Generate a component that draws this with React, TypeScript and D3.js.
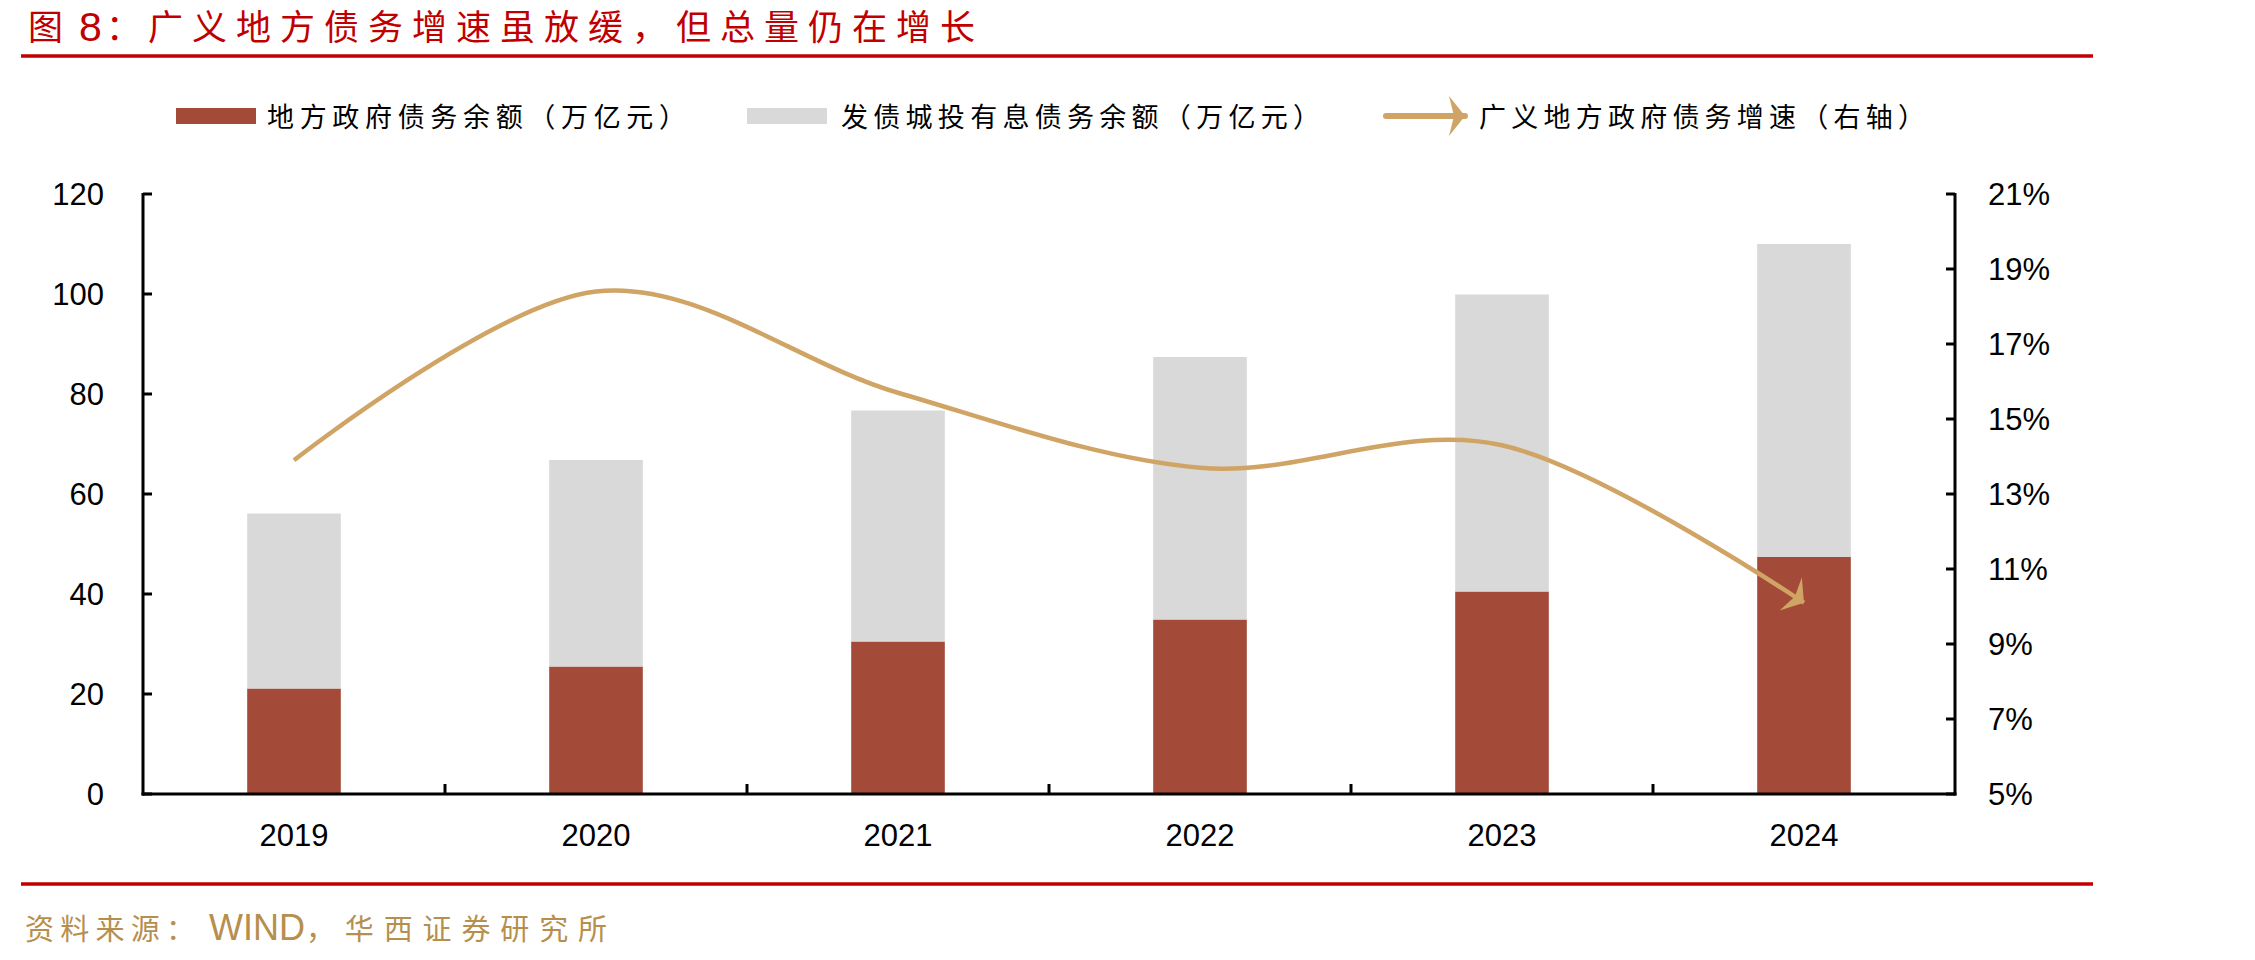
import React from "react";
import * as d3 from "d3";

// Years on the category axis
const years = ["2019", "2020", "2021", "2022", "2023", "2024"];
// 地方政府债务余额（万亿元）
const localGovDebt = [21.1, 25.5, 30.5, 34.9, 40.5, 47.4];
// 发债城投有息债务余额（万亿元）
const lgfvDebt = [35.0, 41.3, 46.2, 52.5, 59.4, 62.6];
// 广义地方政府债务增速（%，右轴）
const growthRate = [13.9, 18.4, 15.7, 13.7, 14.3, 10.1];

const leftTicks = [0, 20, 40, 60, 80, 100, 120];
const rightTicks = [5, 7, 9, 11, 13, 15, 17, 19, 21];

const W = 2255;
const H = 960;
const plot = { left: 143, right: 1955, top: 194, bottom: 794 };

const RED = "#A34A39";
const GRAY = "#D9D9D9";
const GOLD = "#CFA464";
const TITLE_RED = "#C00000";
const SOURCE_GOLD = "#B68F4E";
const CJK = "'Noto Sans CJK SC', 'Noto Sans', sans-serif";
const LATIN = "'Liberation Sans', Arial, sans-serif";

export default function App() {
  const x = d3
    .scaleBand<string>()
    .domain(years)
    .range([plot.left, plot.right])
    .paddingInner(0.69)
    .paddingOuter(0.345);
  const yL = d3.scaleLinear().domain([0, 120]).range([plot.bottom, plot.top]);
  const yR = d3.scaleLinear().domain([5, 21]).range([plot.bottom, plot.top]);
  const bw = x.bandwidth();
  const step = x.step();

  const stacked = years.map((yr, i) => ({
    yr,
    a: localGovDebt[i],
    b: lgfvDebt[i],
  }));

  const linePath = d3
    .line<number>()
    .x((_, i) => (x(years[i]) as number) + bw / 2)
    .y((v) => yR(v))
    .curve(d3.curveCardinal.tension(0))(growthRate) as string;

  // Category boundary ticks on the x axis
  const xBoundaries = years.slice(1).map((yr) => (x(yr) as number) - (step - bw) / 2);

  const arrowPath = "M0,0 L-16,-20 L-11,0 L-16,20 Z";

  return (
    <svg
      width={W}
      height={H}
      viewBox={`0 0 ${W} ${H}`}
      style={{ position: "absolute", left: 0, top: 0, background: "#fff" }}
    >
      <defs>
        <marker
          id="arrowHead"
          markerUnits="userSpaceOnUse"
          viewBox="-20 -24 24 48"
          refX={0}
          refY={0}
          markerWidth={24}
          markerHeight={48}
          orient="auto"
        >
          <path d={arrowPath} fill={GOLD} />
        </marker>
      </defs>

      {/* Title */}
      <text x={28} y={40} fontFamily={CJK} fontSize={35} fill={TITLE_RED}>
        图
      </text>
      <text x={79} y={41} fontFamily={LATIN} fontSize={41} fill={TITLE_RED}>
        8
      </text>
      <text x={106} y={40} fontFamily={CJK} fontSize={35} fill={TITLE_RED}>
        ：
      </text>
      <text
        x={148}
        y={40}
        fontFamily={CJK}
        fontSize={35}
        fill={TITLE_RED}
        textLength={827}
        lengthAdjust="spacing"
      >
        广义地方债务增速虽放缓，但总量仍在增长
      </text>
      <line x1={21} x2={2093} y1={56} y2={56} stroke={TITLE_RED} strokeWidth={3.5} />

      {/* Legend */}
      <rect x={176} y={108} width={80} height={16} fill={RED} />
      <text x={267} y={127} fontFamily={CJK} fontSize={27} fill="#000" textLength={419} lengthAdjust="spacing">
        地方政府债务余额（万亿元）
      </text>
      <rect x={747} y={108} width={80} height={16} fill={GRAY} />
      <text x={841} y={127} fontFamily={CJK} fontSize={27} fill="#000" textLength={479} lengthAdjust="spacing">
        发债城投有息债务余额（万亿元）
      </text>
      <line
        x1={1386}
        x2={1465}
        y1={116}
        y2={116}
        stroke={GOLD}
        strokeWidth={6}
        strokeLinecap="round"
        markerEnd="url(#arrowHead)"
      />
      <text x={1479} y={127} fontFamily={CJK} fontSize={27} fill="#000" textLength={446} lengthAdjust="spacing">
        广义地方政府债务增速（右轴）
      </text>

      {/* Stacked bars */}
      {stacked.map((d) => (
        <g key={d.yr}>
          <rect
            x={x(d.yr)}
            width={bw}
            y={yL(d.a)}
            height={yL(0) - yL(d.a)}
            fill={RED}
          />
          <rect
            x={x(d.yr)}
            width={bw}
            y={yL(d.a + d.b)}
            height={yL(d.a) - yL(d.a + d.b)}
            fill={GRAY}
          />
        </g>
      ))}

      {/* Growth line (right axis) */}
      <path
        d={linePath}
        fill="none"
        stroke={GOLD}
        strokeWidth={4.5}
        strokeLinejoin="round"
        markerEnd="url(#arrowHead)"
      />

      {/* Left axis */}
      <line x1={plot.left} x2={plot.left} y1={plot.top - 1} y2={plot.bottom + 1.5} stroke="#000" strokeWidth={3} />
      {leftTicks.map((t) => (
        <g key={`l${t}`}>
          <line x1={plot.left} x2={plot.left + 9} y1={yL(t)} y2={yL(t)} stroke="#000" strokeWidth={3} />
          <text
            x={104}
            y={yL(t)}
            textAnchor="end"
            dominantBaseline="central"
            fontFamily={LATIN}
            fontSize={31}
            fill="#000"
          >
            {t}
          </text>
        </g>
      ))}

      {/* Right axis */}
      <line x1={plot.right} x2={plot.right} y1={plot.top - 1} y2={plot.bottom + 1.5} stroke="#000" strokeWidth={3} />
      {rightTicks.map((t) => (
        <g key={`r${t}`}>
          <line x1={plot.right - 9} x2={plot.right} y1={yR(t)} y2={yR(t)} stroke="#000" strokeWidth={3} />
          <text
            x={1988}
            y={yR(t)}
            textAnchor="start"
            dominantBaseline="central"
            fontFamily={LATIN}
            fontSize={31}
            fill="#000"
          >
            {t}%
          </text>
        </g>
      ))}

      {/* Bottom axis */}
      <line x1={plot.left - 1.5} x2={plot.right + 1.5} y1={plot.bottom} y2={plot.bottom} stroke="#000" strokeWidth={3} />
      {xBoundaries.map((bx, i) => (
        <line key={`xb${i}`} x1={bx} x2={bx} y1={plot.bottom} y2={plot.bottom - 10} stroke="#000" strokeWidth={3} />
      ))}
      {years.map((yr) => (
        <text
          key={`x${yr}`}
          x={(x(yr) as number) + bw / 2}
          y={846}
          textAnchor="middle"
          fontFamily={LATIN}
          fontSize={31}
          fill="#000"
        >
          {yr}
        </text>
      ))}

      {/* Footer */}
      <line x1={21} x2={2093} y1={884} y2={884} stroke={TITLE_RED} strokeWidth={3.5} />
      <text
        x={25}
        y={940}
        fontFamily={CJK}
        fontSize={29}
        fill={SOURCE_GOLD}
        textLength={170}
        lengthAdjust="spacing"
      >
        资料来源：
      </text>
      <text x={209} y={940} fontFamily={LATIN} fontSize={36} fill={SOURCE_GOLD}>
        WIND
      </text>
      <text
        x={306}
        y={940}
        fontFamily={CJK}
        fontSize={29}
        fill={SOURCE_GOLD}
        textLength={301}
        lengthAdjust="spacing"
      >
        ，华西证券研究所
      </text>
    </svg>
  );
}
